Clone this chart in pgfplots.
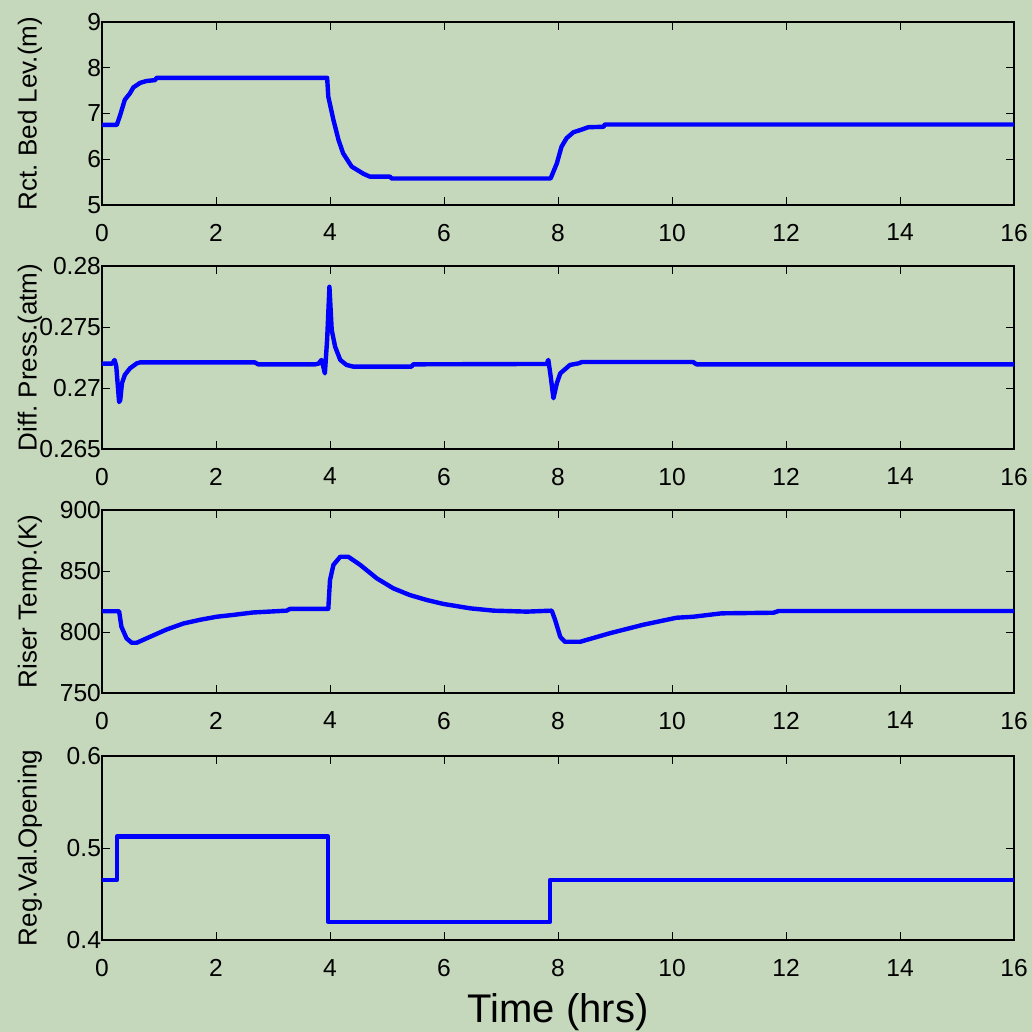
\documentclass[border=0pt]{standalone}
\usepackage{fontspec}
\setmainfont{Liberation Sans}
\usepackage{pgfplots}
\pgfplotsset{compat=1.18}
\definecolor{bg}{RGB}{198,216,188}
\definecolor{lineblue}{RGB}{26,26,250}
\pgfplotsset{
 panel/.style={
  scale only axis, width=456pt, height=91.5pt, anchor=south west,
  xmin=0, xmax=16, xtick={0,2,...,16},
  tick align=inside, major tick length=4pt,
  axis line style={line width=0.6pt},
  every tick/.style={black, line width=0.5pt},
  /pgf/number format/assume math mode=true,
  scaled ticks=false, no markers,
  ticklabel style={font=\fontsize{12.3}{12.3}\selectfont},
  xticklabel style={yshift=-6pt},
  yticklabel style={xshift=3pt},
  ylabel style={at={(axis description cs:-0.079,0.5)}, anchor=center, font=\fontsize{13}{13}\selectfont},
  every axis plot/.append style={lineblue, line width=2.2pt, line join=round},
 }
}
\begin{document}
\frenchspacing
\begin{tikzpicture}
\fill[bg] (0,0) rectangle (516pt,-516pt);
\useasboundingbox (0,0) rectangle (516pt,-516pt);

\begin{axis}[panel, at={(51pt,-102.5pt)}, ymin=5, ymax=9, ytick={5,6,7,8,9},
  ylabel={Rct.\ Bed Lev.(m)}]
\addplot coordinates {(0,6.75)(0.26,6.75)(0.32,6.97)(0.40,7.30)(0.49,7.44)(0.55,7.57)(0.67,7.67)(0.78,7.71)(0.93,7.73)(0.96,7.78)(3.95,7.78)(3.97,7.37)(4.06,6.86)(4.15,6.42)(4.23,6.13)(4.38,5.84)(4.59,5.68)(4.70,5.62)(5.05,5.62)(5.08,5.58)(7.87,5.58)(7.98,5.91)(8.06,6.27)(8.15,6.46)(8.27,6.59)(8.42,6.65)(8.53,6.70)(8.80,6.71)(8.82,6.76)(16,6.76)};
\end{axis}

\begin{axis}[panel, at={(51pt,-224.5pt)}, ymin=0.265, ymax=0.28,
  ytick={0.265,0.27,0.275,0.28}, yticklabels={0.265,0.27,0.275,0.28},
  ylabel={Diff.\ Press.(atm)}]
\addplot coordinates {(0,0.2720)(0.18,0.2720)(0.22,0.2723)(0.25,0.2718)(0.30,0.26885)(0.32,0.2690)(0.35,0.27038)(0.40,0.27107)(0.49,0.27161)(0.61,0.27202)(0.67,0.2721)(2.68,0.2721)(2.74,0.27194)(3.74,0.27194)(3.80,0.2720)(3.85,0.2723)(3.88,0.2718)(3.91,0.2712)(3.95,0.2740)(3.99,0.2783)(4.03,0.27476)(4.09,0.27338)(4.18,0.2723)(4.29,0.27189)(4.41,0.27175)(5.43,0.27175)(5.46,0.27194)(7.80,0.27197)(7.83,0.2723)(7.87,0.2710)(7.92,0.26916)(7.98,0.2704)(8.04,0.2712)(8.21,0.27189)(8.36,0.27202)(8.42,0.27213)(10.37,0.27213)(10.43,0.27194)(16,0.27194)};
\end{axis}

\begin{axis}[panel, at={(51pt,-346.5pt)}, ymin=750, ymax=900, ytick={750,800,850,900},
  ylabel={Riser Temp.(K)}]
\addplot coordinates {(0,817)(0.30,817)(0.34,804.4)(0.43,794.8)(0.52,791.2)(0.61,791.2)(0.84,796)(1.13,802)(1.43,807)(1.72,810)(2.01,812.5)(2.30,814)(2.65,816)(3.24,817.5)(3.30,819)(3.97,819)(4.00,842.6)(4.06,855)(4.18,861.7)(4.32,861.7)(4.53,855)(4.82,844)(5.11,835.8)(5.40,830.3)(5.70,826.2)(5.99,823)(6.46,819.4)(6.87,817.5)(7.45,816.7)(7.89,817.5)(7.95,809.8)(8.04,796)(8.12,792)(8.39,792)(8.91,799)(9.50,806)(10.08,811.7)(10.37,812.5)(10.87,815.3)(11.78,815.8)(11.87,817.2)(16,817.2)};
\end{axis}

\begin{axis}[panel, at={(51pt,-470pt)}, height=92pt, ymin=0.4, ymax=0.6,
  ytick={0.4,0.5,0.6}, yticklabels={0.4,0.5,0.6},
  ylabel={Reg.Val.Opening},
  xlabel={Time (hrs)},
  xlabel style={at={(axis description cs:0.5,-0.451)}, anchor=base, font=\fontsize{20}{20}\selectfont}]
\addplot coordinates {(0,0.465)(0.26,0.465)(0.26,0.5123)(3.97,0.5123)(3.97,0.4199)(7.86,0.4199)(7.86,0.4652)(16,0.4652)};
\end{axis}
\end{tikzpicture}
\end{document}
